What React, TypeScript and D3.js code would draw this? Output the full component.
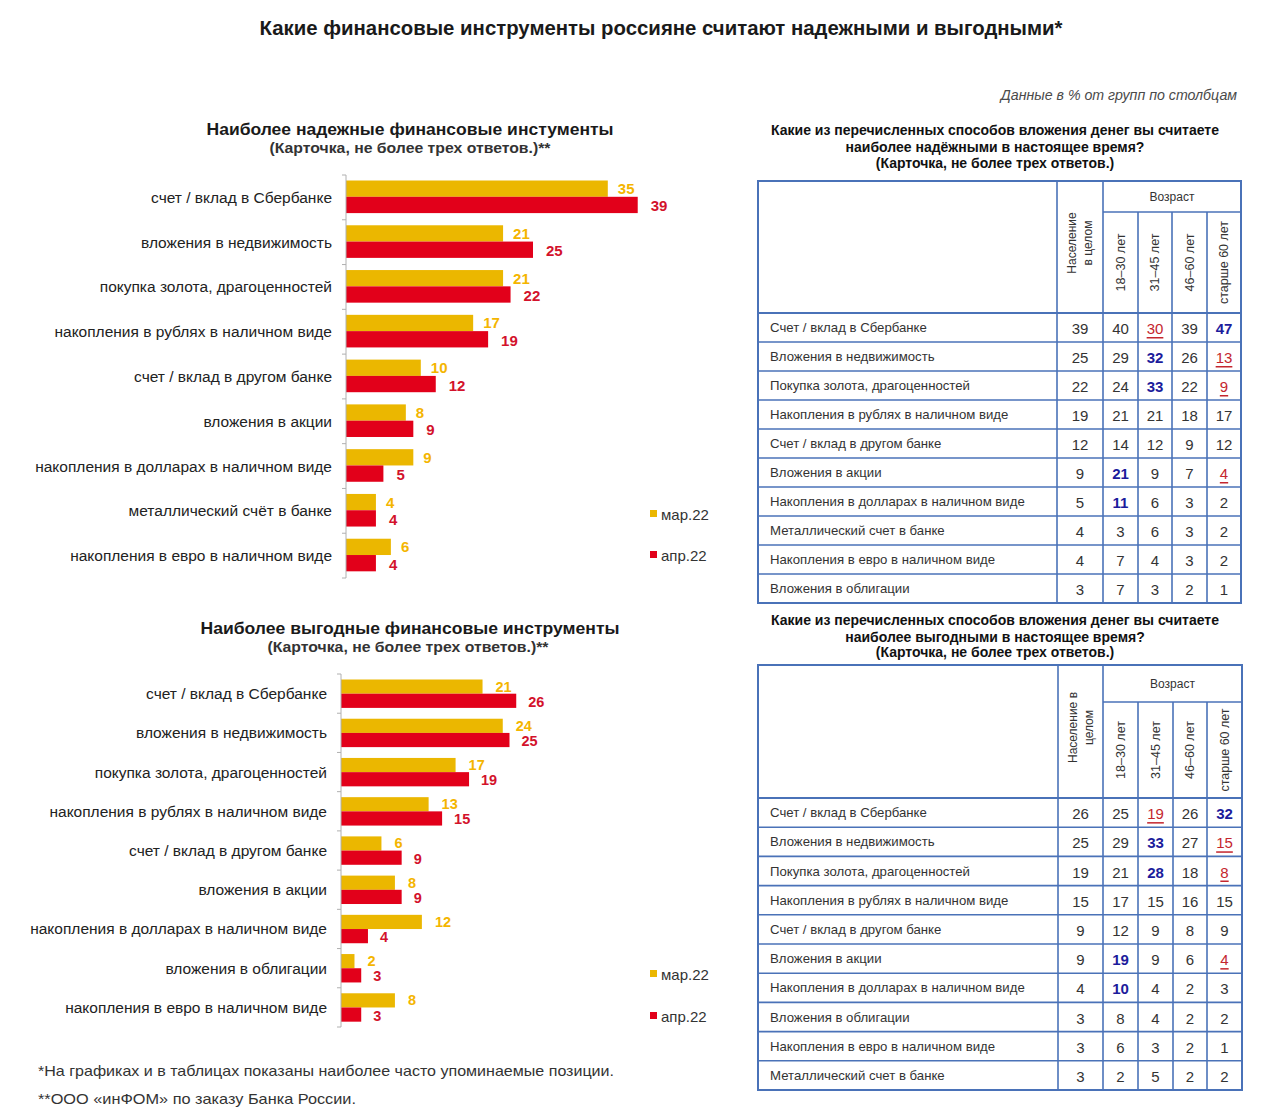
import React from 'react';
import * as d3 from 'd3';

// ---------- DATA ----------
const mainTitle = 'Какие финансовые инструменты россияне считают надежными и выгодными*';
const unitNote = 'Данные в % от групп по столбцам';
const seriesNames = ['мар.22', 'апр.22'];

const reliableTitle = 'Наиболее надежные финансовые инстументы';
const profitableTitle = 'Наиболее выгодные финансовые инструменты';
const cardNote = '(Карточка, не более трех ответов.)**';

const reliableCats = [
  'счет / вклад в Сбербанке',
  'вложения в недвижимость',
  'покупка золота, драгоценностей',
  'накопления в рублях в наличном виде',
  'счет / вклад в другом банке',
  'вложения в акции',
  'накопления в долларах в наличном виде',
  'металлический счёт в банке',
  'накопления в евро в наличном виде',
];
const reliableMar = [35, 21, 21, 17, 10, 8, 9, 4, 6];
const reliableApr = [39, 25, 22, 19, 12, 9, 5, 4, 4];

const profitableCats = [
  'счет / вклад в Сбербанке',
  'вложения в недвижимость',
  'покупка золота, драгоценностей',
  'накопления в рублях в наличном виде',
  'счет / вклад в другом банке',
  'вложения в акции',
  'накопления в долларах в наличном виде',
  'вложения в облигации',
  'накопления в евро в наличном виде',
];
const profitableMar = [21, 24, 17, 13, 6, 8, 12, 2, 8];
const profitableApr = [26, 25, 19, 15, 9, 9, 4, 3, 3];

const footnote1 = '*На графиках и в таблицах показаны наиболее часто упоминаемые позиции.';
const footnote2 = '**ООО «инФОМ» по заказу Банка России.';

// tables
const ageGroupLabel = 'Возраст';
const ageCols = ['18–30 лет', '31–45 лет', '46–60 лет', 'старше 60 лет'];

const table1Title = [
  'Какие из перечисленных способов вложения денег вы считаете',
  'наиболее надёжными в настоящее время?',
  '(Карточка, не более трех ответов.)',
];
const table1PopHeader = ['Население', 'в целом'];
const table1Rows = [
  'Счет / вклад в Сбербанке',
  'Вложения в недвижимость',
  'Покупка золота, драгоценностей',
  'Накопления в рублях в наличном виде',
  'Счет / вклад в другом банке',
  'Вложения в акции',
  'Накопления в долларах в наличном виде',
  'Металлический счет в банке',
  'Накопления в евро в наличном виде',
  'Вложения в облигации',
];
const table1Total = [39, 25, 22, 19, 12, 9, 5, 4, 4, 3];
const table1Age18 = [40, 29, 24, 21, 14, 21, 11, 3, 7, 7];
const table1Age31 = [30, 32, 33, 21, 12, 9, 6, 6, 4, 3];
const table1Age46 = [39, 26, 22, 18, 9, 7, 3, 3, 3, 2];
const table1Age60 = [47, 13, 9, 17, 12, 4, 2, 2, 2, 1];
// [row, column(0 = total), kind]
const table1Marks: [number, number, string][] = [
  [0, 2, 'low'], [0, 4, 'high'], [1, 2, 'high'], [1, 4, 'low'], [2, 2, 'high'], [2, 4, 'low'],
  [5, 1, 'high'], [5, 4, 'low'], [6, 1, 'high'],
];

const table2Title = [
  'Какие из перечисленных способов вложения денег вы считаете',
  'наиболее выгодными в настоящее время?',
  '(Карточка, не более трех ответов.)',
];
const table2PopHeader = ['Население в', 'целом'];
const table2Rows = [
  'Счет / вклад в Сбербанке',
  'Вложения в недвижимость',
  'Покупка золота, драгоценностей',
  'Накопления в рублях в наличном виде',
  'Счет / вклад в другом банке',
  'Вложения в акции',
  'Накопления в долларах в наличном виде',
  'Вложения в облигации',
  'Накопления в евро в наличном виде',
  'Металлический счет в банке',
];
const table2Total = [26, 25, 19, 15, 9, 9, 4, 3, 3, 3];
const table2Age18 = [25, 29, 21, 17, 12, 19, 10, 8, 6, 2];
const table2Age31 = [19, 33, 28, 15, 9, 9, 4, 4, 3, 5];
const table2Age46 = [26, 27, 18, 16, 8, 6, 2, 2, 2, 2];
const table2Age60 = [32, 15, 8, 15, 9, 4, 3, 2, 1, 2];
const table2Marks: [number, number, string][] = [
  [0, 2, 'low'], [0, 4, 'high'], [1, 2, 'high'], [1, 4, 'low'], [2, 2, 'high'], [2, 4, 'low'],
  [5, 1, 'high'], [5, 4, 'low'], [6, 1, 'high'],
];

// ---------- STYLE ----------
const YELLOW = '#EBB700';
const RED = '#E2001A';
const YELLOW_TXT = '#F4B500';
const RED_TXT = '#D3122B';
const BLUE_LINE = '#4A72B8';
const HIGH_TXT = '#1C1C9C';
const LOW_TXT = '#C4262E';
const SANS = '"Liberation Sans", Arial, sans-serif';
const NARROW = '"Liberation Sans Narrow", "Arial Narrow", "Liberation Sans", Arial, sans-serif';

type ChartProps = {
  cats: string[];
  mar: number[];
  apr: number[];
  axisX: number;
  y0: number;
  y1: number;
  pxPerUnit: number;
  barOffset: number;
  barH: number;
  labelGap: number;
  yelGap: number;
  redGap: number;
  labelSize: number;
  valueSize: number;
  legendX: number;
  legendY: [number, number];
};

function BarChart(p: ChartProps) {
  const x = d3.scaleLinear().domain([0, 40]).range([p.axisX, p.axisX + 40 * p.pxPerUnit]);
  const y = d3.scaleBand<string>().domain(p.cats).range([p.y0, p.y1]).paddingInner(0).paddingOuter(0);
  const bw = y.bandwidth();
  const bounds = d3.range(p.cats.length + 1).map((i) => p.y0 + i * bw);
  return (
    <g>
      {p.cats.map((c, i) => {
        const by = y(c)!;
        const ym = by + p.barOffset;
        const yr = ym + p.barH;
        return (
          <g key={c}>
            <text x={p.axisX - p.labelGap} y={by + bw / 2} textAnchor="end" dominantBaseline="central"
              fontFamily={SANS} fontSize={p.labelSize} fill="#222">{c}</text>
            <rect x={x(0)} y={ym} width={x(p.mar[i]) - x(0)} height={p.barH} fill={YELLOW} />
            <rect x={x(0)} y={yr} width={x(p.apr[i]) - x(0)} height={p.barH} fill={RED} />
            <text x={x(p.mar[i]) + p.yelGap} y={ym + p.barH / 2} dominantBaseline="central"
              fontFamily={SANS} fontWeight="bold" fontSize={p.valueSize} fill={YELLOW_TXT}>{p.mar[i]}</text>
            <text x={x(p.apr[i]) + p.redGap} y={yr + p.barH / 2 + 1} dominantBaseline="central"
              fontFamily={SANS} fontWeight="bold" fontSize={p.valueSize} fill={RED_TXT}>{p.apr[i]}</text>
          </g>
        );
      })}
      <line x1={p.axisX} x2={p.axisX} y1={p.y0} y2={p.y1} stroke="#b0b0b0" strokeWidth={1} />
      {bounds.map((b, i) => (
        <line key={i} x1={p.axisX - 4} x2={p.axisX} y1={b} y2={b} stroke="#b0b0b0" strokeWidth={1} />
      ))}
      {seriesNames.map((s, i) => (
        <g key={s}>
          <rect x={p.legendX} y={p.legendY[i] - 4} width={7} height={7} fill={i === 0 ? YELLOW : RED} />
          <text x={p.legendX + 11} y={p.legendY[i]} dominantBaseline="central" fontFamily={SANS}
            fontSize={15} fill="#333">{s}</text>
        </g>
      ))}
    </g>
  );
}

type TableProps = {
  title: string[];
  titleY: number[];
  popHeader: string[];
  rows: string[];
  cols: number[][];
  marks: [number, number, string][];
  colEdges: number[];
  top: number;
  ageLineY: number;
  headBottom: number;
  bottom: number;
};

function DataTable(p: TableProps) {
  const e = p.colEdges;
  const y = d3.scaleBand<string>().domain(p.rows).range([p.headBottom, p.bottom]);
  const bw = y.bandwidth();
  const cx = (i: number) => (e[i] + e[i + 1]) / 2;
  const titleCx = 995;
  const markOf = (r: number, c: number) => {
    const m = p.marks.find((k) => k[0] === r && k[1] === c);
    return m ? m[2] : '';
  };
  const headMid = (p.ageLineY + p.headBottom) / 2;
  const popMid = (p.top + p.headBottom) / 2 - 4;
  return (
    <g>
      {p.title.map((t, i) => (
        <text key={i} x={titleCx} y={p.titleY[i]} textAnchor="middle" dominantBaseline="central"
          fontFamily={SANS} fontWeight="bold" fontSize={14} fill="#111">{t}</text>
      ))}
      {/* header texts */}
      {p.popHeader.map((t, i) => (
        <text key={t} transform={`translate(${cx(1) - 8 + i * 16},${popMid}) rotate(-90)`} textAnchor="middle"
          dominantBaseline="central" fontFamily={SANS} fontSize={12} fill="#333">{t}</text>
      ))}
      <text x={(e[2] + e[6]) / 2} y={(p.top + p.ageLineY) / 2} textAnchor="middle" dominantBaseline="central"
        fontFamily={SANS} fontSize={12} fill="#333">{ageGroupLabel}</text>
      {ageCols.map((t, i) => (
        <text key={t} transform={`translate(${cx(i + 2)},${headMid}) rotate(-90)`} textAnchor="middle"
          dominantBaseline="central" fontFamily={SANS} fontSize={12.5} fill="#333">{t}</text>
      ))}
      {/* rows */}
      {p.rows.map((r, ri) => {
        const ry = y(r)! + bw / 2;
        return (
          <g key={r}>
            <text x={e[0] + 12} y={ry} dominantBaseline="central" fontFamily={SANS} fontSize={13.2}
              fill="#333">{r}</text>
            {p.cols.map((col, ci) => {
              const m = markOf(ri, ci);
              const fill = m === 'high' ? HIGH_TXT : m === 'low' ? LOW_TXT : '#333';
              return (
                <text key={ci} x={cx(ci + 1)} y={ry + 1} textAnchor="middle" dominantBaseline="central"
                  fontFamily={SANS} fontSize={15} fontWeight={m === 'high' ? 'bold' : 'normal'}
                  textDecoration={m === 'low' ? 'underline' : undefined} fill={fill}>{col[ri]}</text>
              );
            })}
          </g>
        );
      })}
      {/* grid */}
      {p.rows.map((r, ri) => (ri > 0 ? (
        <line key={'h' + ri} x1={e[0]} x2={e[6]} y1={y(r)!} y2={y(r)!} stroke={BLUE_LINE} strokeWidth={1.6} />
      ) : null))}
      <line x1={e[0]} x2={e[6]} y1={p.headBottom} y2={p.headBottom} stroke={BLUE_LINE} strokeWidth={1.8} />
      <line x1={e[2]} x2={e[6]} y1={p.ageLineY} y2={p.ageLineY} stroke={BLUE_LINE} strokeWidth={1.6} />
      {e.slice(1, 6).map((xv, i) => (
        <line key={'v' + i} x1={xv} x2={xv} y1={i >= 2 ? p.ageLineY : p.top} y2={p.bottom}
          stroke={BLUE_LINE} strokeWidth={1.6} />
      ))}
      <rect x={e[0]} y={p.top} width={e[6] - e[0]} height={p.bottom - p.top} fill="none"
        stroke={BLUE_LINE} strokeWidth={2} />
    </g>
  );
}

export default function App() {
  return (
    <svg width={1280} height={1120} viewBox="0 0 1280 1120"
      style={{ position: 'absolute', left: 0, top: 0, display: 'block', background: '#fff' }}>
      <rect x={0} y={0} width={1280} height={1120} fill="#fff" />
      <text x={661} y={28} textAnchor="middle" dominantBaseline="central" fontFamily={NARROW} fontWeight="bold"
        fontSize={20} fill="#1a1a1a" textLength={803} lengthAdjust="spacingAndGlyphs">{mainTitle}</text>
      <text x={1237} y={95} textAnchor="end" dominantBaseline="central" fontFamily={SANS} fontStyle="italic"
        fontSize={14.2} fill="#4a4a4a">{unitNote}</text>

      {/* chart 1 */}
      <text x={410} y={129} textAnchor="middle" dominantBaseline="central" fontFamily={NARROW} fontWeight="bold"
        fontSize={17} fill="#1a1a1a" textLength={407} lengthAdjust="spacingAndGlyphs">{reliableTitle}</text>
      <text x={410} y={148} textAnchor="middle" dominantBaseline="central" fontFamily={NARROW} fontWeight="bold"
        fontSize={14} fill="#333" textLength={281} lengthAdjust="spacingAndGlyphs">{cardNote}</text>
      <BarChart cats={reliableCats} mar={reliableMar} apr={reliableApr} axisX={346} y0={175} y1={578}
        pxPerUnit={7.48} barOffset={5.5} barH={16.3} labelGap={14} yelGap={10} redGap={13}
        labelSize={15.5} valueSize={15} legendX={650} legendY={[514, 555]} />

      {/* chart 2 */}
      <text x={410} y={628} textAnchor="middle" dominantBaseline="central" fontFamily={NARROW} fontWeight="bold"
        fontSize={17} fill="#1a1a1a" textLength={419} lengthAdjust="spacingAndGlyphs">{profitableTitle}</text>
      <text x={408} y={647} textAnchor="middle" dominantBaseline="central" fontFamily={NARROW} fontWeight="bold"
        fontSize={14} fill="#333" textLength={281} lengthAdjust="spacingAndGlyphs">{cardNote}</text>
      <BarChart cats={profitableCats} mar={profitableMar} apr={profitableApr} axisX={341} y0={674} y1={1027}
        pxPerUnit={6.74} barOffset={5.5} barH={14.2} labelGap={14} yelGap={13} redGap={12}
        labelSize={15.5} valueSize={14.5} legendX={650} legendY={[974, 1016]} />

      <text x={38} y={1071} dominantBaseline="central" fontFamily={SANS} fontSize={14.5} fill="#333"
        textLength={576} lengthAdjust="spacingAndGlyphs">{footnote1}</text>
      <text x={38} y={1099} dominantBaseline="central" fontFamily={SANS} fontSize={14.5} fill="#333"
        textLength={318} lengthAdjust="spacingAndGlyphs">{footnote2}</text>

      <DataTable title={table1Title} titleY={[130, 147, 163]} popHeader={table1PopHeader} rows={table1Rows}
        cols={[table1Total, table1Age18, table1Age31, table1Age46, table1Age60]} marks={table1Marks}
        colEdges={[758, 1057, 1103, 1138, 1172, 1207, 1241]} top={181} ageLineY={212} headBottom={313} bottom={603} />
      <DataTable title={table2Title} titleY={[620, 637, 652]} popHeader={table2PopHeader} rows={table2Rows}
        cols={[table2Total, table2Age18, table2Age31, table2Age46, table2Age60]} marks={table2Marks}
        colEdges={[758, 1058, 1103, 1138, 1173, 1207, 1242]} top={665} ageLineY={702} headBottom={798} bottom={1090} />
    </svg>
  );
}
